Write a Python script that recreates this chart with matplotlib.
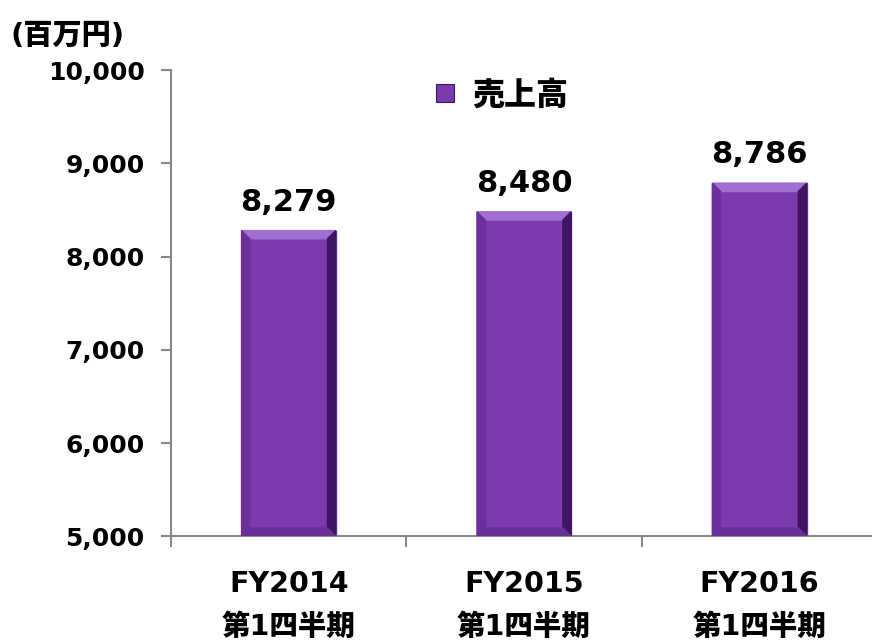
import matplotlib.pyplot as plt
from matplotlib.patches import Polygon, Rectangle
from matplotlib.lines import Line2D

plt.rcParams['font.family'] = ['DejaVu Sans', 'Noto Sans CJK JP']
plt.rcParams['font.weight'] = 'bold'

# data
categories = ['FY2014\n第1四半期', 'FY2015\n第1四半期', 'FY2016\n第1四半期']
sales = [8279, 8480, 8786]
yticks = [5000, 6000, 7000, 8000, 9000, 10000]

base = '#7b3aae'
light = '#a070d0'
dark = '#3e1560'
mid = '#6a2e98'

fig = plt.figure(figsize=(8.72, 6.43), dpi=100)
ax = fig.add_axes([0.196, 0.166, 0.81, 0.725])
ax.set_xlim(0, 3)
ax.set_ylim(5000, 10000)

w = 0.4
bx = 0.035  # bevel in x units
by = bx * (5000 / 0.725 / 6.43) / (3 / 0.81 / 8.72)  # same size in y units
for i, v in enumerate(sales):
    x0, x1 = i + 0.5 - w / 2, i + 0.5 + w / 2
    y0, y1 = 5000, v
    ax.add_patch(Rectangle((x0, y0), w, v - y0, color=base, zorder=2))
    # top bevel
    ax.add_patch(Polygon([(x0, y1), (x1, y1), (x1 - bx, y1 - by), (x0 + bx, y1 - by)],
                         color=light, zorder=3))
    # right bevel
    ax.add_patch(Polygon([(x1, y1), (x1, y0), (x1 - bx, y0 + by), (x1 - bx, y1 - by)],
                         color=dark, zorder=3))
    # bottom bevel
    ax.add_patch(Polygon([(x0, y0), (x1, y0), (x1 - bx, y0 + by), (x0 + bx, y0 + by)],
                         color=mid, zorder=3))
    # left bevel
    ax.add_patch(Polygon([(x0, y0), (x0, y1), (x0 + bx, y1 - by), (x0 + bx, y0 + by)],
                         color='#6c2f9c', zorder=3))
    ax.text(i + 0.5, v + 150, f'{v:,}', ha='center', va='bottom', fontsize=22, fontweight='bold')

ax.set_yticks(yticks)
ax.set_yticklabels([f'{t:,}' for t in yticks], fontsize=18, fontweight='bold')
ax.set_xticks([0, 1, 2, 3])
ax.set_xticklabels([])
ax.set_xticks([0.5, 1.5, 2.5], minor=True)
ax.set_xticklabels(categories, minor=True, fontsize=20.5, fontweight='heavy', linespacing=1.7)
ax.tick_params(axis='x', which='minor', length=0, pad=24)
ax.tick_params(axis='x', which='major', length=8, color='#888888', width=1.5, direction='out')
ax.tick_params(axis='y', length=7, color='#888888', width=1.5, pad=12)

for s in ['top', 'right']:
    ax.spines[s].set_visible(False)
for s in ['left', 'bottom']:
    ax.spines[s].set_color('#888888')
    ax.spines[s].set_linewidth(1.5)

handle = Line2D([], [], marker='s', linestyle='none', markersize=13, color=base,
                markeredgecolor=dark, markeredgewidth=0.8)
ax.legend([handle], ['売上高'], loc='upper center', bbox_to_anchor=(0.468, 1.045), frameon=False,
          prop={'size': 23, 'weight': 'heavy', 'family': ['Noto Sans CJK JP']},
          handlelength=0.7, handletextpad=0.5)

fig.text(0.012, 0.945, '(百万円)', fontsize=21, fontweight='heavy',
         family=['DejaVu Sans', 'Noto Sans CJK JP'], va='center')

fig.savefig('out.png', dpi=100)
